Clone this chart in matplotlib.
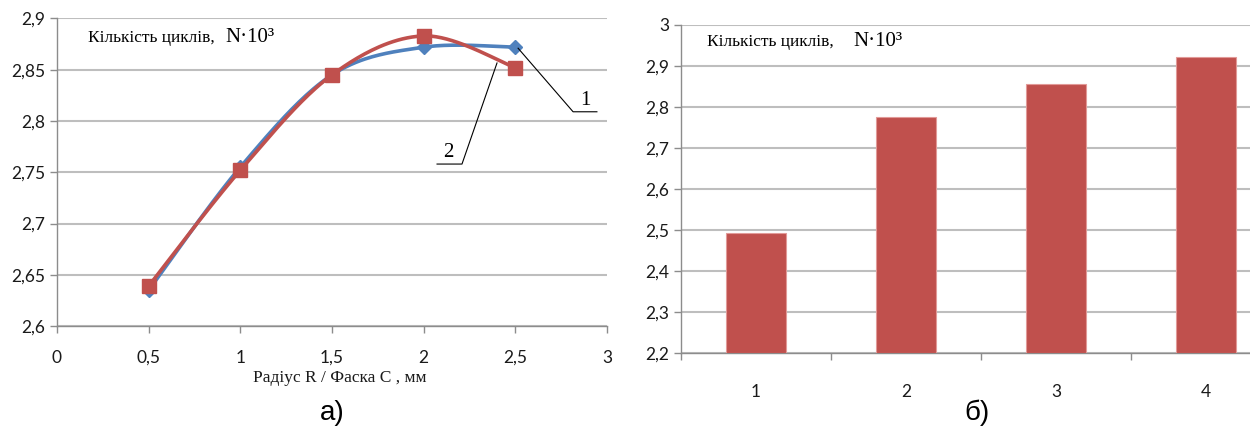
import numpy as np
import matplotlib
matplotlib.use("Agg")
import matplotlib.pyplot as plt
from matplotlib.ticker import FuncFormatter

# chart a) - number of cycles vs radius / chamfer
radius = [0.5, 1.0, 1.5, 2.0, 2.5]
series1 = [2.635, 2.755, 2.845, 2.872, 2.872]   # radius R (blue)
series2 = [2.639, 2.752, 2.845, 2.883, 2.852]   # chamfer C (red)

# chart б) - bars
bar_cats = ["1", "2", "3", "4"]
bar_vals = [2.492, 2.775, 2.857, 2.921]

BLUE = "#4F81BD"
RED = "#C0504D"
GRID = "#BEBEBE"
AXIS = "#8C8C8C"
TICK_FONT = "Lato"
SERIF = "Liberation Serif"


def smooth(xs, ys, n=40):
    # Excel-like smoothed line (Catmull-Rom as cubic Bezier)
    x = np.asarray(xs, float)
    y = np.asarray(ys, float)
    px = np.concatenate([[x[0]], x, [x[-1]]])
    py = np.concatenate([[y[0]], y, [y[-1]]])
    outx, outy = [], []
    t = np.linspace(0, 1, n)
    for i in range(1, len(px) - 2):
        p0 = np.array([px[i], py[i]])
        p3 = np.array([px[i + 1], py[i + 1]])
        c1 = p0 + (np.array([px[i + 1], py[i + 1]]) - np.array([px[i - 1], py[i - 1]])) / 6
        c2 = p3 - (np.array([px[i + 2], py[i + 2]]) - np.array([px[i], py[i]])) / 6
        b = ((1 - t) ** 3)[:, None] * p0 + (3 * (1 - t) ** 2 * t)[:, None] * c1 \
            + (3 * (1 - t) * t ** 2)[:, None] * c2 + (t ** 3)[:, None] * p3
        outx.extend(b[:, 0])
        outy.extend(b[:, 1])
    return outx, outy


def comma(v, pos):
    s = ("%.2f" % v).rstrip("0").rstrip(".")
    return s.replace(".", ",")


def style_axes(ax):
    for side in ["top", "right"]:
        ax.spines[side].set_visible(False)
    for side in ["left", "bottom"]:
        ax.spines[side].set_color(AXIS)
        ax.spines[side].set_linewidth(1.0)
    ax.yaxis.grid(True, color=GRID, linewidth=1.5)
    ax.set_axisbelow(True)
    ax.tick_params(colors=AXIS, length=5, width=1.0, labelcolor="#1a1a1a",
                   labelsize=12.5)
    for lab in ax.get_xticklabels() + ax.get_yticklabels():
        lab.set_fontfamily(TICK_FONT)


fig = plt.figure(figsize=(12.5, 4.34), dpi=100)

# ---- a) line chart
ax1 = fig.add_axes([0.0456, 0.2488, 0.44, 0.7086])
ax1.set_xlim(0, 3)
ax1.set_ylim(2.6, 2.9)
ax1.set_xticks(np.arange(0, 3.01, 0.5))
ax1.set_yticks(np.arange(2.6, 2.901, 0.05))
ax1.xaxis.set_major_formatter(FuncFormatter(comma))
ax1.yaxis.set_major_formatter(FuncFormatter(comma))
style_axes(ax1)
ax1.tick_params(axis="x", pad=12)

sx, sy = smooth(radius, series1)
ax1.plot(sx, sy, color=BLUE, linewidth=2.6, zorder=3)
ax1.plot(radius, series1, linestyle="none", marker="D", markersize=7,
         color=BLUE, zorder=4)
sx, sy = smooth(radius, series2)
ax1.plot(sx, sy, color=RED, linewidth=2.6, zorder=5)
ax1.plot(radius, series2, linestyle="none", marker="s", markersize=9.5,
         color=RED, zorder=6)

# leader lines with curve numbers
ax1.plot([2.515, 2.815, 2.945], [2.871, 2.809, 2.809], color="black",
         linewidth=0.8, zorder=7)
ax1.text(2.88, 2.811, "1", fontfamily=SERIF, fontsize=15, ha="center",
         va="bottom")
ax1.plot([2.40, 2.209, 2.073], [2.8566, 2.758, 2.758], color="black",
         linewidth=0.8, zorder=7)
ax1.text(2.133, 2.760, "2", fontfamily=SERIF, fontsize=15, ha="center",
         va="bottom")

fig.text(88 / 1250, 1 - 38 / 434, "Кількість циклів,", fontfamily=SERIF,
         fontsize=12.5, va="center", ha="left")
fig.text(225 / 1250, 1 - 37 / 434, "N·10³", fontfamily=SERIF,
         fontsize=15, va="center", ha="left")
fig.text(340 / 1250, 1 - 378 / 434, "Радіус R / Фаска С , мм", fontfamily=SERIF,
         fontsize=12.5, ha="center", va="center", color="#1a1a1a")
fig.text(332 / 1250, 1 - 413 / 434, "а)", fontfamily="Liberation Sans",
         fontsize=20, ha="center", va="center")

# ---- б) bar chart
ax2 = fig.add_axes([0.5448, 0.186, 0.48, 0.7564])
x = np.arange(len(bar_cats))
ax2.bar(x, [v - 2.2 for v in bar_vals], bottom=2.2, width=0.4, color=RED,
        edgecolor="#E29A98", linewidth=0.8, zorder=3)
ax2.set_xlim(-0.5, len(bar_cats) - 0.5)
ax2.set_ylim(2.2, 3.0)
ax2.set_yticks(np.arange(2.2, 3.001, 0.1))
ax2.yaxis.set_major_formatter(FuncFormatter(comma))
ax2.set_xticks(x)
ax2.set_xticklabels(bar_cats)
ax2.set_xticks(np.arange(-0.5, len(bar_cats), 1.0), minor=True)
style_axes(ax2)
ax2.tick_params(axis="x", which="major", length=0, pad=22)
ax2.tick_params(axis="x", which="minor", length=5, color=AXIS, width=1.0)

fig.text(707 / 1250, 1 - 42 / 434, "Кількість циклів,", fontfamily=SERIF,
         fontsize=12.5, va="center", ha="left")
fig.text(853 / 1250, 1 - 41 / 434, "N·10³", fontfamily=SERIF,
         fontsize=15, va="center", ha="left")
fig.text(977 / 1250, 1 - 413 / 434, "б)", fontfamily="Liberation Sans",
         fontsize=20, ha="center", va="center")

fig.savefig("out.png", dpi=100)
